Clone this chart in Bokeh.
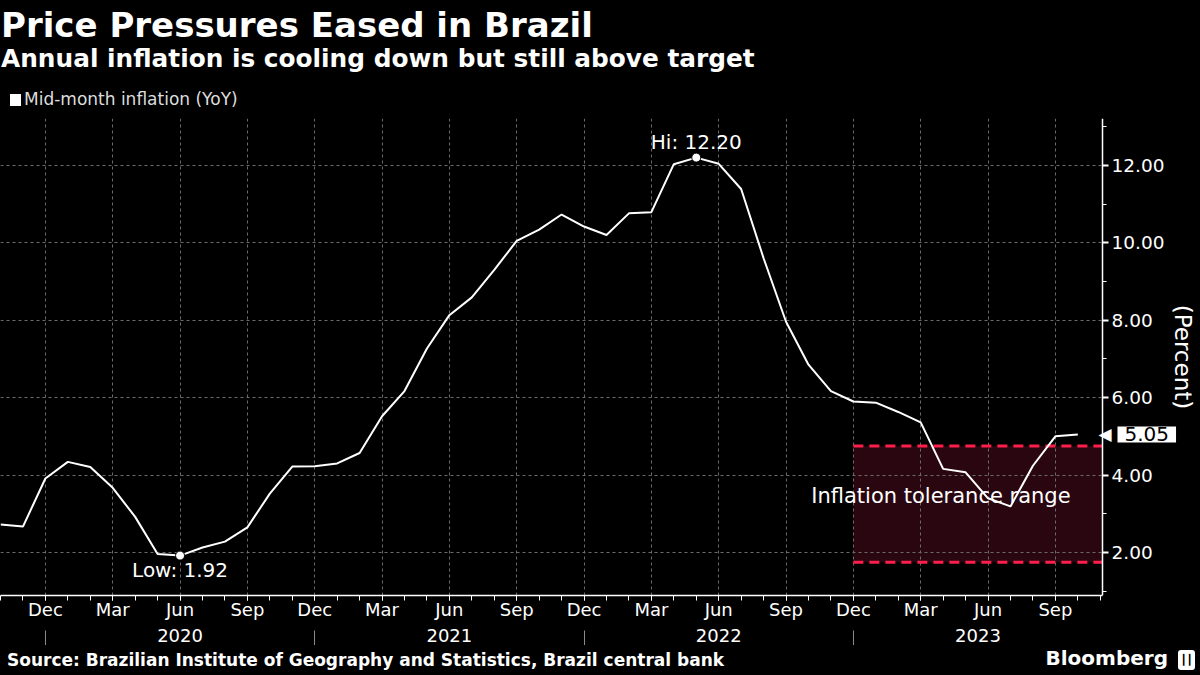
from bokeh.plotting import figure
from bokeh.models import Range1d, LinearAxis, FixedTicker, Label, Div, Grid
from bokeh.layouts import column
from bokeh.embed import file_html
from bokeh.resources import INLINE

# ---------------- data ----------------
# monthly, first point = Oct 2019, last point = Oct 2023
month_names = ["Oct", "Nov", "Dec",
               "Jan", "Feb", "Mar", "Apr", "May", "Jun", "Jul", "Aug", "Sep", "Oct", "Nov", "Dec",
               "Jan", "Feb", "Mar", "Apr", "May", "Jun", "Jul", "Aug", "Sep", "Oct", "Nov", "Dec",
               "Jan", "Feb", "Mar", "Apr", "May", "Jun", "Jul", "Aug", "Sep", "Oct", "Nov", "Dec",
               "Jan", "Feb", "Mar", "Apr", "May", "Jun", "Jul", "Aug", "Sep", "Oct"]
inflation = [2.72, 2.67, 3.91,
             4.34, 4.21, 3.67, 2.92, 1.96, 1.92, 2.13, 2.28, 2.65, 3.52, 4.22, 4.23,
             4.30, 4.57, 5.52, 6.17, 7.27, 8.13, 8.59, 9.30, 10.05, 10.34, 10.73, 10.42,
             10.20, 10.76, 10.79, 12.03, 12.20, 12.04, 11.39, 9.60, 7.96, 6.85, 6.17, 5.90,
             5.87, 5.63, 5.36, 4.16, 4.07, 3.40, 3.19, 4.24, 5.00, 5.05]
quarter_months = ["Dec", "Mar", "Jun", "Sep"]
year_labels = ["2020", "2021", "2022", "2023"]
y_ticks = [2, 4, 6, 8, 10, 12]
tol_low, tol_high = 1.75, 4.75
tol_start_month = 38  # Dec 2022

title = "Price Pressures Eased in Brazil"
subtitle = "Annual inflation is cooling down but still above target"
series_name = "Mid-month inflation (YoY)"
source = "Source: Brazilian Institute of Geography and Statistics, Brazil central bank"

FONT = "DejaVu Sans"
xs = list(range(len(inflation)))
x_end = 49.1                      # where the value axis sits
W = 1200
AXIS_PX = 1102                    # pixel position of the value axis inside the frame
x_view_end = x_end * W / AXIS_PX  # frame extends past the axis to hold its labels

p = figure(width=W, height=533, output_backend="svg", toolbar_location=None,
           x_range=Range1d(0, x_view_end), y_range=Range1d(0.889, 13.21),
           y_axis_location="right",
           min_border_left=0, min_border_right=0, min_border_top=6, min_border_bottom=50,
           background_fill_color="black", border_fill_color="black", outline_line_color=None,
           margin=0)

# ---- bottom month axis ----
q_ticks = [i for i, m in enumerate(month_names) if m in quarter_months]
xax = p.xaxis[0]
xax.ticker = FixedTicker(ticks=q_ticks, minor_ticks=list(range(0, 50)))
xax.major_label_overrides = {i: month_names[i] for i in q_ticks}
xax.bounds = (0, x_end)
xax.axis_line_color = "white"
xax.axis_line_width = 1.5
xax.major_tick_line_color = "white"
xax.minor_tick_line_color = "white"
xax.major_tick_in = 0
xax.major_tick_out = 5
xax.minor_tick_in = 0
xax.minor_tick_out = 5
xax.major_label_text_color = "white"
xax.major_label_text_font = FONT
xax.major_label_text_font_size = "18px"
xax.major_label_standoff = -2
xax.axis_label = " "
xax.axis_label_text_font_size = "1px"
xax.axis_label_standoff = 4

# ---- year axis ----
seps = [i for i, m in enumerate(month_names) if m == "Dec"]
bounds = seps + [x_end]
year_pos = [round((bounds[k] + bounds[k + 1]) / 2, 2) for k in range(len(seps))]
yax2 = LinearAxis(ticker=FixedTicker(ticks=year_pos, minor_ticks=seps),
                  major_label_overrides={year_pos[k]: year_labels[k] for k in range(4)},
                  axis_line_color=None, major_tick_line_color=None,
                  major_tick_in=0, major_tick_out=0,
                  minor_tick_in=0, minor_tick_out=27, minor_tick_line_color="#8a8a8a",
                  major_label_text_color="white", major_label_text_font=FONT,
                  major_label_text_font_size="18px", major_label_standoff=-29)
p.add_layout(yax2, "below")

# ---- right value axis, pinned at x_end ----
yax = p.yaxis[0]
yax.fixed_location = x_end
yax.ticker = FixedTicker(ticks=y_ticks, minor_ticks=[1, 3, 5, 7, 9, 11, 13])
yax.major_label_overrides = {t: f"{t:.2f}" for t in y_ticks}
yax.axis_line_color = "white"
yax.axis_line_width = 1.5
yax.major_tick_line_color = "white"
yax.major_tick_line_width = 2
yax.minor_tick_line_color = "white"
yax.major_tick_in = 0
yax.major_tick_out = 6
yax.minor_tick_in = 0
yax.minor_tick_out = 4
yax.major_label_text_color = "white"
yax.major_label_text_font = FONT
yax.major_label_text_font_size = "18.5px"
yax.major_label_standoff = 3
yax.axis_label = "(Percent)"
yax.axis_label_text_color = "white"
yax.axis_label_text_font = FONT
yax.axis_label_text_font_style = "normal"
yax.axis_label_text_font_size = "23px"
yax.axis_label_standoff = 3

# ---- grids ----
p.xgrid.ticker = FixedTicker(ticks=q_ticks)
p.ygrid.ticker = FixedTicker(ticks=y_ticks)
for g in (p.xgrid, p.ygrid):
    g.grid_line_color = "#6a6a6a"
    g.grid_line_dash = "3 3"
    g.grid_line_width = 1
if hasattr(Grid, "cross_bounds"):
    p.ygrid.cross_bounds = (0, x_end)
else:
    p.ygrid.visible = False
    p.segment(x0=[0] * len(y_ticks), x1=[x_end] * len(y_ticks), y0=y_ticks, y1=y_ticks,
              line_color="#6a6a6a", line_dash="3 3", line_width=1, level="underlay")

# ---- tolerance band ----
p.quad(left=[tol_start_month], right=[x_end], bottom=[tol_low], top=[tol_high],
       fill_color="#2a0710", line_color=None, level="image")
for lvl in (tol_high, tol_low):
    p.segment(x0=[tol_start_month], x1=[x_end], y0=[lvl], y1=[lvl],
              line_color="#ff1f4b", line_width=3, line_dash="10 6")

# ---- line ----
p.line(xs, inflation, line_color="white", line_width=2)

hi_i = max(range(len(inflation)), key=lambda i: inflation[i])
lo_i = min(range(len(inflation)), key=lambda i: inflation[i])
p.scatter([hi_i, lo_i], [inflation[hi_i], inflation[lo_i]], size=9,
          fill_color="white", line_color="black", line_width=1)

p.add_layout(Label(x=hi_i, y=inflation[hi_i], text=f"Hi: {inflation[hi_i]:.2f}",
                   text_align="center", text_baseline="alphabetic", y_offset=16,
                   text_color="white", text_font=FONT, text_font_size="20px"))
p.add_layout(Label(x=lo_i, y=inflation[lo_i], text=f"Low: {inflation[lo_i]:.2f}",
                   text_align="center", text_baseline="alphabetic", y_offset=-14,
                   text_color="white", text_font=FONT, text_font_size="20px"))
p.add_layout(Label(x=41.9, y=3.21, y_offset=10, text="Inflation tolerance range",
                   text_align="center", text_baseline="alphabetic",
                   text_color="white", text_font=FONT, text_font_size="21px"))

# ---- last value tag ----
last = inflation[-1]
p.add_layout(Label(x=x_end, y=last, x_offset=9, text="\u25C0",
                   text_align="right", text_baseline="middle",
                   text_color="white", text_font=FONT, text_font_size="17px"))
tag_kw = dict(x=x_end, y=last, x_offset=15, text=f"{last:.2f}",
              text_align="left", text_baseline="middle",
              text_color="black", text_font=FONT, text_font_size="20px",
              background_fill_color="white")
try:
    tag = Label(padding=dict(left=7, right=7, top=1, bottom=1), **tag_kw)
except Exception:
    tag = Label(padding=(1, 7, 1, 7), **tag_kw)
p.add_layout(tag)

# ---- header / footer as HTML text ----
head_html = f"""
<div style="position:relative;width:1200px;height:112px;background:#000;color:#fff;font-family:'DejaVu Sans',sans-serif;">
  <div style="position:absolute;left:1px;top:8px;font-size:34px;line-height:34px;font-weight:bold;white-space:nowrap;">{title}</div>
  <div style="position:absolute;left:1px;top:47px;font-size:24.8px;line-height:24.8px;font-weight:bold;white-space:nowrap;">{subtitle}</div>
  <div style="position:absolute;left:10px;top:94px;width:11px;height:12px;background:#fff;"></div>
  <div style="position:absolute;left:24px;top:91px;font-size:17px;line-height:17px;color:#ddd;white-space:nowrap;">{series_name}</div>
</div>"""
foot_html = f"""
<div style="position:relative;width:1200px;height:30px;background:#000;color:#fff;font-family:'DejaVu Sans',sans-serif;">
  <div style="position:absolute;left:7px;top:7px;font-size:17px;line-height:17px;font-weight:bold;white-space:nowrap;">{source}</div>
  <div style="position:absolute;right:32px;top:3px;font-size:20px;line-height:20px;font-weight:bold;white-space:nowrap;">Bloomberg</div>
  <div style="position:absolute;right:5px;top:5px;width:17px;height:20px;background:#fff;border-radius:3px;color:#000;font-size:10px;line-height:20px;text-align:center;font-weight:bold;">&#x2503;&#x2503;</div>
</div>"""

head = Div(text=head_html, width=W, height=112, margin=0, styles={"background-color": "black"})
foot = Div(text=foot_html, width=W, height=30, margin=0, styles={"background-color": "black"})

layout = column(head, p, foot, spacing=0, margin=0, styles={"background-color": "black"})

open("out.html", "w").write(file_html(layout, INLINE))
